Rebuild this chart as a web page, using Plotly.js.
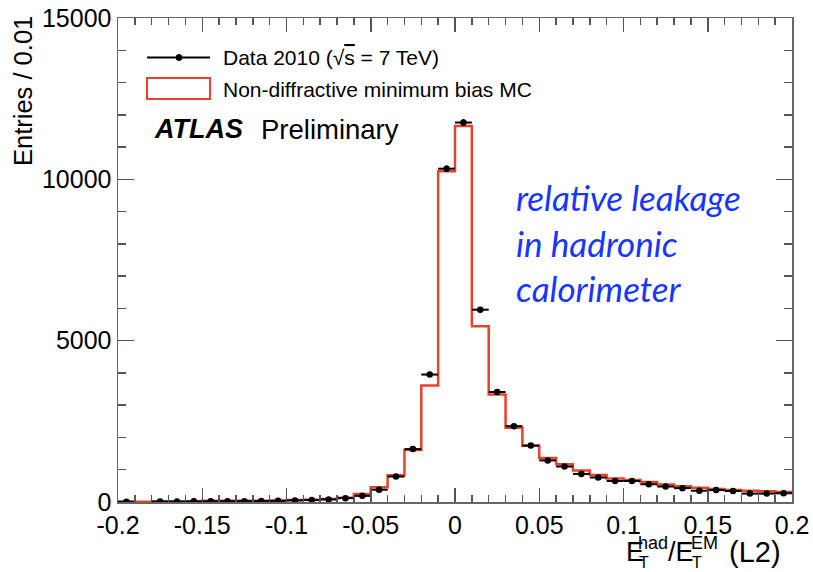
<!DOCTYPE html>
<html>
<head>
<meta charset="utf-8">
<script src="https://cdn.plot.ly/plotly-3.0.1.min.js"></script>
<style>html,body{margin:0;padding:0;background:#fff;}</style>
</head>
<body>
<div id="chart" style="width:813px;height:572px;"></div>
<script>
// Bin edges of E_T^had / E_T^EM (width 0.01)
const binEdges = [-0.20,-0.19,-0.18,-0.17,-0.16,-0.15,-0.14,-0.13,-0.12,-0.11,-0.10,
  -0.09,-0.08,-0.07,-0.06,-0.05,-0.04,-0.03,-0.02,-0.01,0.00,
  0.01,0.02,0.03,0.04,0.05,0.06,0.07,0.08,0.09,0.10,
  0.11,0.12,0.13,0.14,0.15,0.16,0.17,0.18,0.19,0.20];

// Data 2010 entries per bin (null = no point drawn)
const dataEntries = [10,null,15,15,20,20,25,25,30,35,
  50,60,80,120,190,380,790,1640,3950,10330,
  11760,5960,3410,2350,1750,1290,1100,870,760,650,
  650,550,480,430,350,370,340,260,260,270];

// Non-diffractive minimum bias MC entries per bin
const mcEntries = [5,10,12,15,15,35,35,40,40,45,
  60,70,95,135,250,455,830,1610,3610,10250,
  11650,5450,3330,2300,1745,1360,1170,975,840,730,
  685,620,540,490,445,400,370,350,330,310];

const xTickVals = [-0.2,-0.15,-0.1,-0.05,0,0.05,0.1,0.15,0.2];
const xTickText = ["-0.2","-0.15","-0.1","-0.05","0","0.05","0.1","0.15","0.2"];
const yTickVals = [0,5000,10000,15000];
const yTickText = ["0","5000","10000","15000"];

const binCenters = dataEntries.map((_, i) => (binEdges[i] + binEdges[i+1]) / 2);
const halfWidth = (binEdges[1] - binEdges[0]) / 2;

const L = 118, R = 792, T = 18, B = 502;
const P = px => (px - L) / (R - L);
const Q = py => (B - py) / (B - T);

const FONT = "Liberation Sans, Arial, Helvetica, sans-serif";
const RED = "#e8412c";

const mcTrace = {
  type: "scatter", mode: "lines",
  x: binEdges,
  y: mcEntries.concat([mcEntries[mcEntries.length-1]]),
  line: {shape: "hv", color: RED, width: 2.5},
  hoverinfo: "skip"
};

const dataTrace = {
  type: "scatter", mode: "markers",
  x: binCenters, y: dataEntries,
  marker: {color: "black", size: 6.5, symbol: "circle"},
  error_x: {type: "constant", value: halfWidth, width: 0, thickness: 2, color: "black"},
  error_y: {type: "sqrt", width: 0, thickness: 2, color: "black"}
};

const tickColor = "#555";
const layout = {
  width: 813, height: 572,
  margin: {l: L, r: 813 - R, t: T, b: 572 - B},
  paper_bgcolor: "white", plot_bgcolor: "white",
  showlegend: false,
  font: {family: FONT, color: "black"},
  xaxis: {
    range: [-0.2, 0.2], tickmode: "array", tickvals: xTickVals, ticktext: xTickText,
    ticks: "inside", ticklen: 14, tickwidth: 1.5, tickcolor: tickColor,
    showline: true, linecolor: "#666", linewidth: 1.5, mirror: "allticks",
    showgrid: false, zeroline: false,
    tickfont: {family: FONT, size: 25, color: "black"},
    minor: {dtick: 0.01, tick0: -0.2, ticks: "inside", ticklen: 7, tickwidth: 1.5, tickcolor: tickColor, showgrid: false}
  },
  yaxis: {
    range: [0, 15000], tickmode: "array", tickvals: yTickVals, ticktext: yTickText,
    ticks: "inside", ticklen: 16, tickwidth: 1.5, tickcolor: tickColor,
    showline: true, linecolor: "#666", linewidth: 1.5, mirror: "allticks",
    showgrid: false, zeroline: false,
    tickfont: {family: FONT, size: 25, color: "black"},
    minor: {dtick: 1000, tick0: 0, ticks: "inside", ticklen: 8, tickwidth: 1.5, tickcolor: tickColor, showgrid: false}
  },
  shapes: [
    {type: "line", xref: "paper", yref: "paper", x0: P(147), x1: P(210), y0: Q(57.5), y1: Q(57.5), line: {color: "black", width: 2}},
    {type: "circle", xref: "paper", yref: "paper", x0: P(176), x1: P(182), y0: Q(54.5), y1: Q(60.5), fillcolor: "black", line: {color: "black", width: 1}},
    {type: "rect", xref: "paper", yref: "paper", x0: P(147), x1: P(210), y0: Q(78), y1: Q(99), line: {color: RED, width: 2}}
  ],
  annotations: [
    {xref: "paper", yref: "paper", x: P(221), y: Q(58), xanchor: "left", yanchor: "middle", showarrow: false,
     text: "Data 2010 (√<span style='text-decoration:overline'>s</span> = 7 TeV)", font: {family: FONT, size: 21, color: "black"}},
    {xref: "paper", yref: "paper", x: P(221), y: Q(90), xanchor: "left", yanchor: "middle", showarrow: false,
     text: "Non-diffractive minimum bias MC", font: {family: FONT, size: 21, color: "black"}},
    {xref: "paper", yref: "paper", x: P(152), y: Q(129), xanchor: "left", yanchor: "middle", showarrow: false,
     text: "<b><i>ATLAS</i></b>", font: {family: FONT, size: 27, color: "black"}},
    {xref: "paper", yref: "paper", x: P(259), y: Q(129), xanchor: "left", yanchor: "middle", showarrow: false,
     text: "Preliminary", font: {family: FONT, size: 27.5, color: "black"}},
    {xref: "paper", yref: "paper", x: P(514), y: Q(243), xanchor: "left", yanchor: "middle", showarrow: false, align: "left",
     text: "<i>relative leakage<br>in hadronic<br>calorimeter</i>", font: {family: "Lato, Open Sans, sans-serif", size: 35, color: "#1736ff"}},
    // y-axis title
    {xref: "paper", yref: "paper", x: P(23), y: Q(14), xanchor: "center", yanchor: "top", showarrow: false, textangle: -90,
     text: "Entries / 0.01", font: {family: FONT, size: 25.5, color: "black"}},
    // x-axis title pieces
    {xref: "paper", yref: "paper", x: P(624), y: Q(552), xanchor: "left", yanchor: "middle", showarrow: false,
     text: "E", font: {family: FONT, size: 27, color: "black"}},
    {xref: "paper", yref: "paper", x: P(637), y: Q(562), xanchor: "left", yanchor: "middle", showarrow: false,
     text: "T", font: {family: FONT, size: 16, color: "black"}},
    {xref: "paper", yref: "paper", x: P(636), y: Q(543), xanchor: "left", yanchor: "middle", showarrow: false,
     text: "had", font: {family: FONT, size: 18, color: "black"}},
    {xref: "paper", yref: "paper", x: P(666), y: Q(552), xanchor: "left", yanchor: "middle", showarrow: false,
     text: "/E", font: {family: FONT, size: 27, color: "black"}},
    {xref: "paper", yref: "paper", x: P(690), y: Q(562), xanchor: "left", yanchor: "middle", showarrow: false,
     text: "T", font: {family: FONT, size: 16, color: "black"}},
    {xref: "paper", yref: "paper", x: P(689), y: Q(543), xanchor: "left", yanchor: "middle", showarrow: false,
     text: "EM", font: {family: FONT, size: 18, color: "black"}},
    {xref: "paper", yref: "paper", x: P(727), y: Q(552), xanchor: "left", yanchor: "middle", showarrow: false,
     text: "(L2)", font: {family: FONT, size: 29, color: "black"}}
  ]
};

Plotly.newPlot("chart", [mcTrace, dataTrace], layout, {displayModeBar: false, staticPlot: true});
</script>
</body>
</html>
